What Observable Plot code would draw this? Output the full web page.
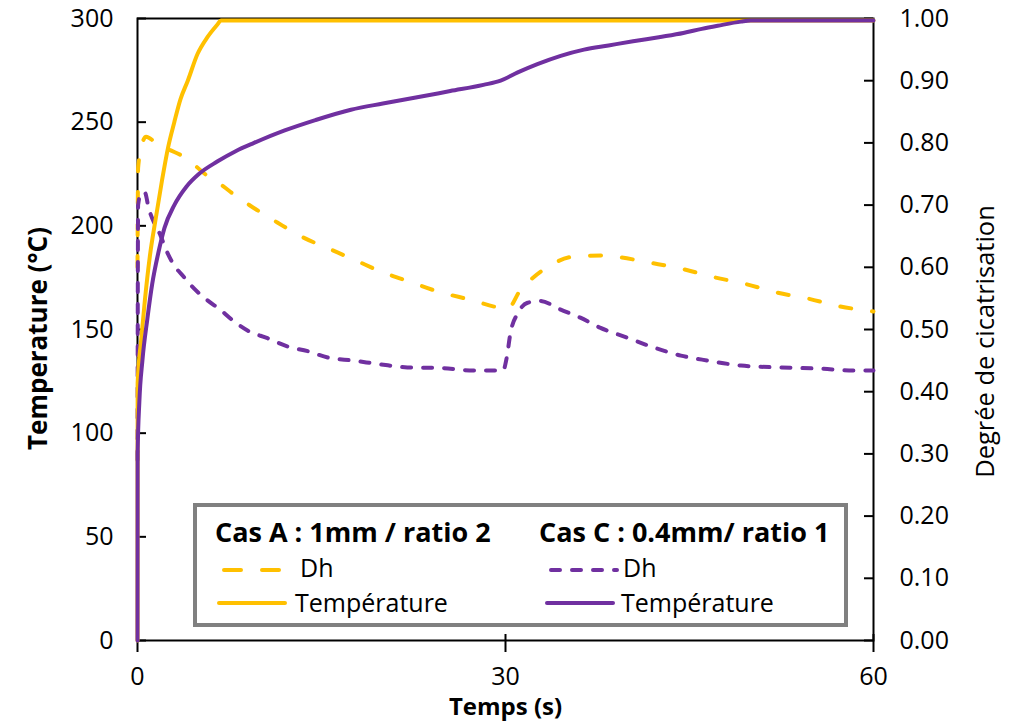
<!DOCTYPE html>
<html>
<head>
<meta charset="utf-8">
<script src="https://cdn.jsdelivr.net/npm/d3@7"></script>
<script src="https://cdn.jsdelivr.net/npm/@observablehq/plot@0.6"></script>
<style>
  html, body { margin: 0; padding: 0; background: white; }
  #chart { position: relative; width: 1009px; height: 728px; }
</style>
</head>
<body>
<div id="chart"></div>
<script>
// ---- Data ----
// Cas A : 1mm / ratio 2 — Température (°C)
const tA = [0, 0.01, 0.3, 0.6, 1.0, 1.5, 2.0, 2.5, 3.0, 3.5, 4.1, 4.9, 5.7, 6.5, 6.8, 60];
const TA = [0, 124, 145, 164, 185, 204, 222, 238, 250, 261, 270, 283, 291, 297, 299, 299];

// Cas C : 0.4mm/ ratio 1 — Température (°C)
const tC = [0, 0.01, 0.15, 0.4, 0.8, 1.2, 1.7, 2.2, 3.0, 4.0, 5.0, 6.5, 8.0, 9.5, 12, 14.5, 17.4, 20, 22.8, 25.5, 28.2, 29.6, 31, 32.6, 34.5, 36.4, 38.4, 40.4, 42.5, 44.5, 46, 47.3, 49.2, 50, 60];
const TC = [0, 90, 115, 135, 155, 172, 187, 199, 210, 219, 225, 231, 236, 240, 246, 251, 256, 259, 262, 265, 268, 270, 274, 278, 282, 285, 287, 289, 291, 293, 295, 296.5, 298.5, 299, 299];

// Cas A — Dh (degré de cicatrisation)
const tDhA = [0, 0.05, 0.4, 0.7, 1.5, 2.5, 4, 5.5, 7, 8, 9.2, 11.4, 13.5, 15.6, 17.8, 20, 22.3, 24.5, 27.1, 29.6, 30.2, 31.2, 32, 33.4, 35.5, 38, 39.4, 41.6, 44.3, 47, 49.4, 52.2, 54.6, 57.3, 60];
const DhA = [0.60, 0.76, 0.80, 0.81, 0.80, 0.79, 0.775, 0.75, 0.73, 0.715, 0.699, 0.672, 0.648, 0.630, 0.611, 0.592, 0.576, 0.561, 0.548, 0.535, 0.534, 0.563, 0.579, 0.600, 0.617, 0.619, 0.616, 0.608, 0.598, 0.584, 0.574, 0.559, 0.550, 0.537, 0.529];

// Cas C — Dh
const tDhC = [0, 0.05, 0.3, 0.6, 0.9, 1.9, 2.4, 2.9, 3.8, 4.6, 5.7, 6.8, 7.8, 9.0, 10.6, 12.2, 13.9, 15.5, 17.6, 19.8, 22, 24.7, 27.4, 29.8, 30.1, 30.4, 31.0, 31.8, 32.8, 34.5, 36.1, 37.7, 39.9, 42.1, 44.3, 46.5, 49.2, 52.4, 55.7, 58.4, 60];
const DhC = [0.29, 0.70, 0.72, 0.72, 0.696, 0.65, 0.625, 0.606, 0.584, 0.566, 0.547, 0.531, 0.514, 0.498, 0.486, 0.473, 0.465, 0.455, 0.450, 0.444, 0.439, 0.438, 0.434, 0.434, 0.455, 0.494, 0.526, 0.543, 0.546, 0.532, 0.519, 0.503, 0.487, 0.471, 0.458, 0.450, 0.442, 0.439, 0.437, 0.434, 0.434];

const xTicks = [0, 30, 60];
const yTicks = [0, 50, 100, 150, 200, 250, 300];
const y2Ticks = [0, 0.1, 0.2, 0.3, 0.4, 0.5, 0.6, 0.7, 0.8, 0.9, 1.0];

const xLabel = "Temps (s)";
const yLabel = "Temperature (°C)";
const y2Label = "Degrée de cicatrisation";
const legendTitles = ["Cas A : 1mm / ratio 2", "Cas C : 0.4mm/ ratio 1"];
const legendItems = ["Dh", "Température"];

const YELLOW = "#FFC000";
const PURPLE = "#7030A0";
const FONT = "'Open Sans', sans-serif";
const Y2K = 300; // right axis (0..1) mapped onto left scale (0..300)

const rows = (ts, vs) => ts.map((t, i) => ({t, v: vs[i]}));

const chart = Plot.plot({
  width: 1009,
  height: 728,
  marginLeft: 137,
  marginRight: 136,
  marginTop: 18,
  marginBottom: 88,
  x: {domain: [0, 60]},
  y: {domain: [0, 300]},
  style: {fontFamily: FONT, fontSize: "25px", color: "black", background: "white", overflow: "visible"},
  marks: [
    // left axis labels + inward ticks
    Plot.axisY(yTicks, {anchor: "left", tickSize: 0, tickPadding: 24, label: null, fontSize: 25}),
    Plot.tickY(yTicks, {y: d => d, insetRight: 727, stroke: "black", strokeWidth: 2}),
    // right axis
    Plot.axisY(y2Ticks.map(v => v * Y2K), {anchor: "right", tickSize: 0, tickPadding: 26, label: null, fontSize: 25,
      tickFormat: d => (d / Y2K).toFixed(2)}),
    Plot.tickY(y2Ticks, {y: d => d * Y2K, insetLeft: 727, stroke: "black", strokeWidth: 2}),
    // x axis
    Plot.axisX(xTicks, {anchor: "bottom", tickSize: 0, tickPadding: 27, label: null, fontSize: 25}),
    Plot.tickX(xTicks, {x: d => d, insetTop: 616, insetBottom: -12, stroke: "black", strokeWidth: 2}),
    Plot.frame({stroke: "black", strokeWidth: 2}),
    // axis titles
    Plot.text([yLabel], {text: d => d, frameAnchor: "left", dx: -99, dy: 9, rotate: -90, textAnchor: "middle",
      lineAnchor: "middle", fontWeight: "bold", fontSize: 26}),
    Plot.text([y2Label], {text: d => d, frameAnchor: "right", dx: 112, dy: 12, rotate: -90, textAnchor: "middle",
      lineAnchor: "middle", fontSize: 25.5}),
    Plot.text([xLabel], {text: d => d, frameAnchor: "bottom", dy: 67, textAnchor: "middle", lineAnchor: "middle",
      fontWeight: "bold", fontSize: 24}),
    // series
    Plot.line(rows(tDhA, DhA), {x: "t", y: d => d.v * Y2K, stroke: YELLOW, strokeWidth: 4, strokeDasharray: "11,21",
      strokeLinecap: "round", strokeLinejoin: "round", curve: "monotone-x"}),
    Plot.line(rows(tDhC, DhC), {x: "t", y: d => d.v * Y2K, stroke: PURPLE, strokeWidth: 4, strokeDasharray: "9,12",
      strokeLinecap: "round", strokeLinejoin: "round", curve: "monotone-x"}),
    Plot.line(rows(tA, TA), {x: "t", y: "v", stroke: YELLOW, strokeWidth: 4, strokeLinejoin: "round", curve: "monotone-x"}),
    Plot.line(rows(tC, TC), {x: "t", y: "v", stroke: PURPLE, strokeWidth: 4, strokeLinejoin: "round", curve: "monotone-x"})
  ]
});

document.getElementById("chart").appendChild(chart);

// ---- Legend (inside the plot area) ----
const svg = d3.select(chart);
const lg = svg.append("g").attr("font-family", FONT).attr("fill", "black").attr("text-anchor", "start");
lg.append("rect").attr("x", 195).attr("y", 505).attr("width", 651).attr("height", 120)
  .attr("fill", "white").attr("stroke", "#808080").attr("stroke-width", 4);
const txt = (x, y, s, size, bold) => lg.append("text").attr("x", x).attr("y", y).attr("font-size", size)
  .attr("font-weight", bold ? "bold" : "normal").attr("text-anchor", "start").text(s);
txt(215, 542, legendTitles[0], 27, true);
txt(539, 542, legendTitles[1], 27, true);
// Cas A samples
lg.append("line").attr("x1", 224).attr("x2", 279).attr("y1", 570).attr("y2", 570)
  .attr("stroke", YELLOW).attr("stroke-width", 4).attr("stroke-linecap", "round").attr("stroke-dasharray", "17,21");
txt(300, 577, legendItems[0], 25, false);
lg.append("line").attr("x1", 219).attr("x2", 285).attr("y1", 603).attr("y2", 603)
  .attr("stroke", YELLOW).attr("stroke-width", 4).attr("stroke-linecap", "round");
txt(295, 612, legendItems[1], 25, false);
// Cas C samples
lg.append("line").attr("x1", 551).attr("x2", 617).attr("y1", 570).attr("y2", 570)
  .attr("stroke", PURPLE).attr("stroke-width", 4).attr("stroke-linecap", "round").attr("stroke-dasharray", "9,12");
txt(623, 577, legendItems[0], 25, false);
lg.append("line").attr("x1", 547).attr("x2", 613).attr("y1", 603).attr("y2", 603)
  .attr("stroke", PURPLE).attr("stroke-width", 4).attr("stroke-linecap", "round");
txt(621, 612, legendItems[1], 25, false);
</script>
</body>
</html>
